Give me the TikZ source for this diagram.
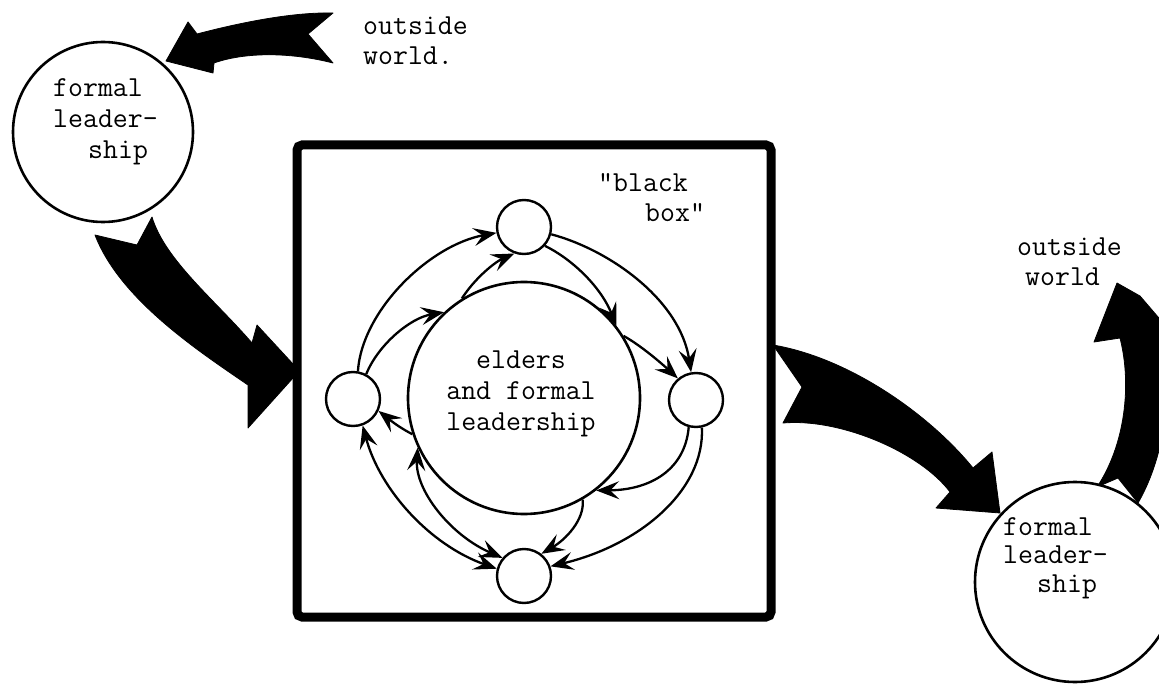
\documentclass[tikz,border=0pt]{standalone}
\usepackage{fontspec}
\usetikzlibrary{arrows.meta}
\begin{document}
\begin{tikzpicture}[x=1pt,y=-1pt,
  txt/.style={font=\ttfamily\fontsize{29}{30}\selectfont, inner sep=0pt},
  bigring/.style={circle, draw, line width=2.6pt, fill=white, inner sep=0pt},
  ring/.style={circle, draw, line width=2.4pt, minimum size=54pt, inner sep=0pt},
  core/.style={circle, draw, line width=2.6pt, minimum size=232pt, inner sep=0pt},
  tipA/.tip={Stealth[length=23pt,width=18pt,inset=9pt]},
  net/.style={line width=2.3pt, -tipA},
  bothnet/.style={line width=2.3pt, tipA-tipA},
  blob/.style={fill=black, draw=black, line width=0.8pt, line join=round}
]
\useasboundingbox (0,0) rectangle (1159,687);
\fill[white] (0,0) rectangle (1159,687);

% black box
\node[draw, line width=9pt, rounded corners=5pt, minimum width=474pt, minimum height=472pt, inner sep=0pt] (bbox) at (534,381) {};

% big arrows
\fill[blob] (166,61) -- (188,22) -- (197,34) .. controls (235,24) and (290,12) .. (333,13) -- (308,34) -- (333,63) .. controls (290,52) and (245,52) .. (214,63) -- (213,73) -- cycle;
\fill[blob] (152,217) .. controls (165,260) and (215,300) .. (252,343) -- (257,325) -- (293,364) -- (293,378) -- (248,428) -- (248,385) .. controls (200,352) and (120,300) .. (95,235) -- (137,245) -- cycle;
\fill[blob] (773,345) .. controls (850,358) and (930,415) .. (973,468) -- (992,452) -- (1000,513) -- (936,508) -- (950,492) .. controls (920,452) and (840,418) .. (783,423) -- (802,387) -- cycle;
\fill[blob] (1097,487) .. controls (1125,445) and (1132,385) .. (1120,338) -- (1094,342) -- (1117,283) -- (1140,296) -- (1182,345) -- (1168,340) .. controls (1172,410) and (1160,465) .. (1138,503) -- (1118,478) -- cycle;

% formal leadership circles
\node[bigring, minimum size=180pt] (fl1) at (103,132) {};
\node[bigring, minimum size=200pt] (fl2) at (1075,582) {};

% network inside the box
\node[core] (C) at (524,398) {};
\node[ring] (T) at (524,227) {};
\node[ring] (L) at (353,399) {};
\node[ring] (R) at (696,400) {};
\node[ring] (B) at (524,576) {};

\draw[net] (L.80) .. controls (362,310) and (430,245) .. (T.192);
\draw[net] (C.122) .. controls (475,278) and (495,262) .. (T.250);
\draw[net] (L.62) .. controls (378,345) and (410,318) .. (C.133);
\draw[net] (T.345) .. controls (610,250) and (680,300) .. (R.100);
\draw[net] (T.318) .. controls (570,258) and (600,285) .. (C.38);
\draw[net] (C.32) .. controls (640,345) and (660,362) .. (R.130);
\draw[net] (R.255) .. controls (685,470) and (650,490) .. (C.308);
\draw[net] (R.282) .. controls (705,490) and (640,545) .. (B.20);
\draw[net] (C.300) .. controls (585,520) and (565,540) .. (B.52);
\draw[bothnet] (C.205) .. controls (415,490) and (450,535) .. (B.140);
\draw[bothnet] (L.290) .. controls (380,490) and (430,545) .. (B.165);
\draw[net] (C.198) .. controls (400,428) and (390,420) .. (L.335);

% texts
\node[txt, anchor=base west] (ow1a) at (363,35) {outside};
\node[txt, anchor=base west] (ow1b) at (363,65) {world.};
\node[txt, anchor=base west] (fl1a) at (53,97) {formal};
\node[txt, anchor=base west] (fl1b) at (53,128) {leader-};
\node[txt, anchor=base west] (fl1c) at (88,159) {ship};
\node[txt, anchor=base west] (bb1) at (598,192) {"black};
\node[txt, anchor=base west] (bb2) at (645,222) {box"};
\node[txt, anchor=base] (el1) at (521,368) {elders};
\node[txt, anchor=base] (el2) at (521,399) {and formal};
\node[txt, anchor=base] (el3) at (521,430) {leadership};
\node[txt, anchor=base west] (ow2a) at (1017,255) {outside};
\node[txt, anchor=base west] (ow2b) at (1025,285) {world};
\node[txt, anchor=base west] (fl2a) at (1003,535) {formal};
\node[txt, anchor=base west] (fl2b) at (1003,563) {leader-};
\node[txt, anchor=base west] (fl2c) at (1037,592) {ship};
\end{tikzpicture}
\end{document}
